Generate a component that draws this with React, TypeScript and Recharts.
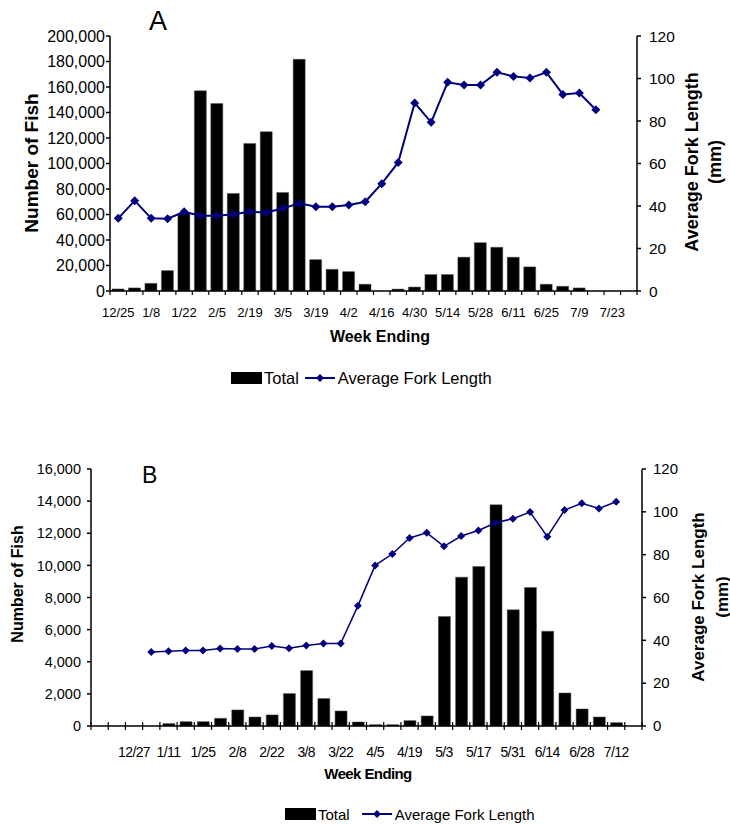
import React from 'react';
import { ComposedChart, Bar, Line, XAxis, YAxis, Legend } from 'recharts';

// Panel A: week ending dates, weekly totals and average fork length (mm)
const weeksA = ['12/25', '1/1', '1/8', '1/15', '1/22', '1/29', '2/5', '2/12', '2/19', '2/26', '3/5', '3/12', '3/19', '3/26', '4/2', '4/9', '4/16', '4/23', '4/30', '5/7', '5/14', '5/21', '5/28', '6/4', '6/11', '6/18', '6/25', '7/2', '7/9', '7/16', '7/23', '7/30'];
const totalsA = [1600, 2400, 6000, 16000, 61000, 157000, 147000, 76500, 115700, 124900, 77300, 181700, 24600, 17000, 15200, 5300, 0, 1500, 3100, 12900, 12900, 26500, 37900, 34300, 26500, 18900, 5300, 3700, 2400, 0, 0, 0];
const forkA = [34.2, 42.5, 34.2, 34, 37.3, 35.4, 35.4, 36.1, 37.3, 37, 38.9, 41.3, 39.7, 39.7, 40.5, 42, 50.5, 60.5, 88.5, 79.4, 98.2, 96.9, 96.9, 102.9, 101, 100.2, 102.9, 92.5, 93.2, 85.3, null, null];
const leftTicksA = [0, 20000, 40000, 60000, 80000, 100000, 120000, 140000, 160000, 180000, 200000];

// Panel B
const weeksB = ['', '', '12/27', '1/4', '1/11', '1/18', '1/25', '2/1', '2/8', '2/15', '2/22', '3/1', '3/8', '3/15', '3/22', '3/29', '4/5', '4/12', '4/19', '4/26', '5/3', '5/10', '5/17', '5/24', '5/31', '6/7', '6/14', '6/21', '6/28', '7/5', '7/12', '7/19'];
const totalsB = [0, 0, 0, 0, 150, 270, 270, 480, 1000, 560, 690, 2020, 3450, 1710, 935, 250, 85, 85, 335, 625, 6815, 9265, 9930, 13770, 7230, 8620, 5900, 2055, 1060, 560, 210, 0];
const forkB = [null, null, null, 34.5, 34.9, 35.2, 35.2, 36.2, 36, 36, 37.3, 36.3, 37.6, 38.5, 38.5, 56.1, 75, 80.3, 87.8, 90.2, 83.9, 88.7, 91.3, 94.9, 96.8, 99.9, 88.4, 100.8, 104, 101.6, 104.7, null];
const leftTicksB = [0, 2000, 4000, 6000, 8000, 10000, 12000, 14000, 16000];

const rightTicks = [0, 20, 40, 60, 80, 100, 120];

const dataA = weeksA.map((week, i) => ({ week, total: totalsA[i], fork: forkA[i] }));
const dataB = weeksB.map((week, i) => ({ week, total: totalsB[i], fork: forkB[i] }));

const NAVY = '#000080';
const FONT = "'Liberation Sans', Arial, sans-serif";

const fmt = (v: number) => v.toLocaleString('en-US');

function diamond(r: number) {
  return (props: any) => {
    const { cx, cy, index } = props;
    if (cx == null || cy == null) return <g key={`d-${index}`} />;
    return (
      <polygon
        key={`d-${index}`}
        points={`${cx},${cy - r} ${cx + r},${cy} ${cx},${cy + r} ${cx - r},${cy}`}
        fill={NAVY}
      />
    );
  };
}

// category axis tick: tick marks sit between categories, labels on every other week
function makeTick(half: number, cross: boolean, labelDy: number, fontSize: number, spacing: number) {
  return (props: any) => {
    const { x, y, payload, index, visibleTicksCount } = props;
    const last = index === visibleTicksCount - 1;
    return (
      <g>
        <line x1={x - half} x2={x - half} y1={cross ? y - 4 : y} y2={y + 4} stroke="#000" strokeWidth={1.2} />
        {last && <line x1={x + half} x2={x + half} y1={cross ? y - 4 : y} y2={y + 4} stroke="#000" strokeWidth={1.2} />}
        {index % 2 === 0 && payload.value !== '' && (
          <text x={x} y={y + labelDy} textAnchor="middle" dominantBaseline="central" fontSize={fontSize} fontFamily={FONT} letterSpacing={spacing} fill="#000">
            {payload.value}
          </text>
        )}
      </g>
    );
  };
}

function makeLegend(startX: number, fontSize: number, gap: number) {
  return (props: any) => {
    // bar entry first, then the line
    const items = [...(props.payload || [])].sort((a: any, b: any) => (a.type === 'line' ? 1 : 0) - (b.type === 'line' ? 1 : 0));
    return (
      <div style={{ display: 'flex', alignItems: 'center', paddingLeft: startX, height: 20, fontFamily: FONT, fontSize, color: '#000' }}>
        {items.map((it: any) => (
          <div key={it.value} style={{ display: 'flex', alignItems: 'center', marginRight: gap }}>
            {it.type === 'line' ? (
              <svg width={30} height={12} style={{ marginRight: 3 }}>
                <line x1={0} x2={30} y1={6} y2={6} stroke={NAVY} strokeWidth={2} />
                <polygon points="15,2 19,6 15,10 11,6" fill={NAVY} />
              </svg>
            ) : (
              <div style={{ width: 31, height: 12, background: '#000', marginRight: 2 }} />
            )}
            <span>{it.value}</span>
          </div>
        ))}
      </div>
    );
  };
}

function rotated(x: number, y: number, text: string, size: number) {
  return (
    <text x={x} y={y} transform={`rotate(-90, ${x}, ${y})`} textAnchor="middle" dominantBaseline="central" fontSize={size} fontWeight="bold" fontFamily={FONT} fill="#000">
      {text}
    </text>
  );
}

export default function App() {
  return (
    <div style={{ position: 'absolute', left: 0, top: 0, width: 730, height: 824, background: '#fff', fontFamily: FONT }}>
      <div style={{ position: 'absolute', left: 149, top: 5, fontSize: 27, fontFamily: FONT, lineHeight: '32px' }}>A</div>
      <div style={{ position: 'absolute', left: 0, top: 0 }}>
        <ComposedChart width={730} height={400} data={dataA} margin={{ top: 36, right: 0, bottom: 59, left: 0 }} barSize={12}>
          <XAxis
            dataKey="week"
            interval={0}
            tickSize={0}
            tickMargin={0}
            height={30}
            stroke="#000"
            strokeWidth={1.5}
            tick={makeTick(8.23, false, 21, 13, 0)}
            label={() => (
              <text x={380} y={336} textAnchor="middle" dominantBaseline="central" fontSize={16} fontWeight="bold" fontFamily={FONT} fill="#000">
                Week Ending
              </text>
            )}
          />
          <YAxis
            yAxisId="left"
            width={110}
            domain={[0, 200000]}
            ticks={leftTicksA}
            tickFormatter={fmt}
            tickSize={4}
            tickMargin={1}
            stroke="#000"
            strokeWidth={1.5}
            tick={{ fill: '#000', fontSize: 16 }}
            label={() => rotated(31, 163, 'Number of Fish', 19)}
          />
          <YAxis
            yAxisId="right"
            orientation="right"
            width={93}
            domain={[0, 120]}
            ticks={rightTicks}
            tickSize={4}
            tickMargin={8}
            stroke="#000"
            strokeWidth={1.5}
            tick={{ fill: '#000', fontSize: 15.5 }}
            label={() => (
              <g>
                {rotated(692, 162, 'Average Fork Length', 18)}
                {rotated(715, 162, '(mm)', 18)}
              </g>
            )}
          />
          <Legend content={makeLegend(231, 16.5, 6)} wrapperStyle={{ top: 368, left: 0, width: 730, height: 20 }} />
          <Bar yAxisId="left" dataKey="total" name="Total" fill="#000" stroke="#555" strokeWidth={0.5} isAnimationActive={false} />
          <Line yAxisId="right" dataKey="fork" name="Average Fork Length" stroke={NAVY} strokeWidth={2} dot={diamond(4.5)} activeDot={false} isAnimationActive={false} />
        </ComposedChart>
      </div>

      <div style={{ position: 'absolute', left: 142, top: 460, fontSize: 23, fontFamily: FONT, lineHeight: '30px' }}>B</div>
      <div style={{ position: 'absolute', left: 0, top: 420 }}>
        <ComposedChart width={730} height={404} data={dataB} margin={{ top: 49, right: 0, bottom: 48, left: 0 }} barSize={12}>
          <XAxis
            dataKey="week"
            interval={0}
            tickSize={0}
            tickMargin={0}
            height={30}
            stroke="#000"
            strokeWidth={1.5}
            tick={makeTick(8.61, true, 26, 14, -0.6)}
            label={() => (
              <text x={368} y={353} textAnchor="middle" dominantBaseline="central" fontSize={15} fontWeight="bold" fontFamily={FONT} letterSpacing={-0.6} fill="#000">
                Week Ending
              </text>
            )}
          />
          <YAxis
            yAxisId="left"
            width={91}
            domain={[0, 16000]}
            ticks={leftTicksB}
            tickFormatter={fmt}
            tickSize={4}
            tickMargin={6}
            stroke="#000"
            strokeWidth={1.5}
            tick={{ fill: '#000', fontSize: 14.5 }}
            label={() => rotated(17, 164, 'Number of Fish', 16)}
          />
          <YAxis
            yAxisId="right"
            orientation="right"
            width={88}
            domain={[0, 120]}
            ticks={rightTicks}
            tickSize={4}
            tickMargin={7}
            stroke="#000"
            strokeWidth={1.5}
            tick={{ fill: '#000', fontSize: 15 }}
            label={() => (
              <g>
                {rotated(698, 177, 'Average Fork Length', 17)}
                {rotated(722, 177, '(mm)', 17)}
              </g>
            )}
          />
          <Legend content={makeLegend(285, 15, 12)} wrapperStyle={{ top: 384, left: 0, width: 730, height: 20 }} />
          <Bar yAxisId="left" dataKey="total" name="Total" fill="#000" stroke="#555" strokeWidth={0.5} isAnimationActive={false} />
          <Line yAxisId="right" dataKey="fork" name="Average Fork Length" stroke={NAVY} strokeWidth={1.5} dot={diamond(4)} activeDot={false} isAnimationActive={false} />
        </ComposedChart>
      </div>
    </div>
  );
}
